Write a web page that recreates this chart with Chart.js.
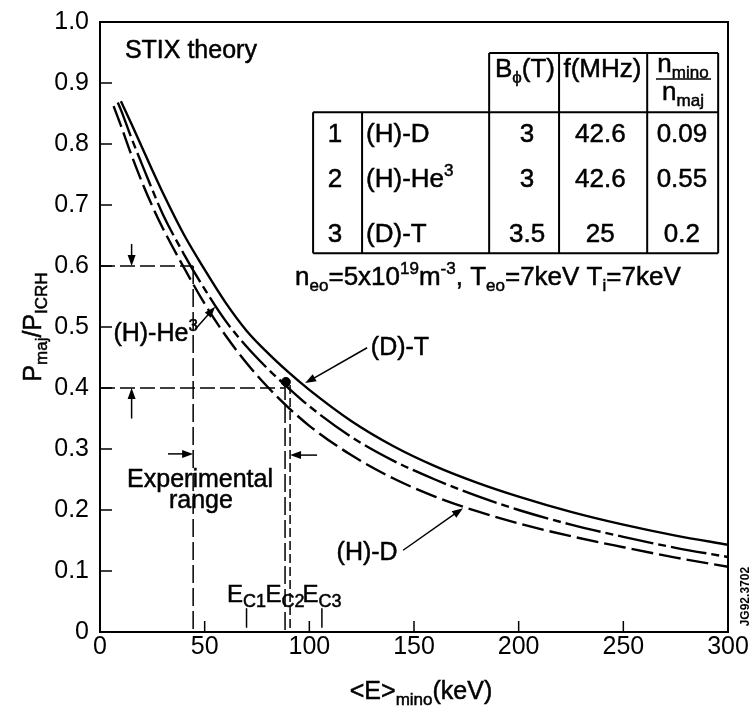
<!DOCTYPE html>
<html>
<head>
<meta charset="utf-8">
<script src="https://cdn.jsdelivr.net/npm/chart.js@4/dist/chart.umd.min.js"></script>
<style>
  html, body { margin: 0; padding: 0; background: #fff; }
</style>
</head>
<body>
<canvas id="chart" width="750" height="707"></canvas>
<script>
const FONT = '"Liberation Sans", Arial, Helvetica, sans-serif';

// curves: <E>_mino in keV, P_maj/P_ICRH
const hdEnergy = [6.5, 10, 15, 20, 25, 30, 40, 50, 60, 70, 80, 90, 100, 120, 140, 160, 180, 200, 225, 250, 275, 300];
const hdFraction = [0.862, 0.83, 0.782, 0.738, 0.698, 0.662, 0.598, 0.538, 0.486, 0.441, 0.402, 0.368, 0.338, 0.29, 0.252, 0.222, 0.198, 0.178, 0.157, 0.139, 0.122, 0.107];

const he3Energy = [8.5, 10, 15, 20, 25, 30, 40, 50, 60, 70, 80, 90, 100, 120, 140, 160, 180, 200, 225, 250, 275, 300];
const he3Fraction = [0.868, 0.856, 0.81, 0.767, 0.725, 0.685, 0.62, 0.562, 0.51, 0.468, 0.432, 0.40, 0.37, 0.32, 0.281, 0.25, 0.223, 0.2, 0.176, 0.156, 0.138, 0.123];

const dtEnergy = [10, 15, 20, 25, 30, 40, 50, 60, 70, 80, 90, 100, 120, 140, 160, 180, 200, 225, 250, 275, 300];
const dtFraction = [0.87, 0.833, 0.795, 0.757, 0.72, 0.652, 0.594, 0.54, 0.494, 0.458, 0.426, 0.397, 0.346, 0.305, 0.272, 0.245, 0.222, 0.197, 0.176, 0.158, 0.143];

// experimental range markers
const expLowEnergy = 44.5;
const expHighEnergy = [88.4, 90.8];
const expLevels = [0.6, 0.4];
const markerPoint = [88.8, 0.41];
const ecEnergy = [70, 88.4, 106];
const ecNames = ['C1', 'C2', 'C3'];

const xTicks = [0, 50, 100, 150, 200, 250, 300];
const yTicks = [0, 0.1, 0.2, 0.3, 0.4, 0.5, 0.6, 0.7, 0.8, 0.9, 1.0];

// parameter table
const tableIndex = ['1', '2', '3'];
const tableScheme = [[['(H)-D', '']], [['(H)-He', ''], ['3', 'sup']], [['(D)-T', '']]];
const tableField = ['3', '3', '3.5'];
const tableFreq = ['42.6', '42.6', '25'];
const tableRatio = ['0.09', '0.55', '0.2'];

const curve = (xs, ys) => xs.map((x, i) => ({ x, y: ys[i] }));
const seg = pts => pts.map(([x, y]) => ({ x, y }));

function drawRich(ctx, runs, x, y, size, align, small) {
  small = small || Math.round(size * 0.66);
  let w = 0;
  runs.forEach(([t, k]) => {
    ctx.font = `${k ? small : size}px ${FONT}`;
    w += ctx.measureText(t).width;
  });
  let cx = align === 'center' ? x - w / 2 : align === 'right' ? x - w : x;
  ctx.textAlign = 'left';
  ctx.textBaseline = 'alphabetic';
  ctx.lineWidth = 0.5;
  runs.forEach(([t, k]) => {
    ctx.font = `${k ? small : size}px ${FONT}`;
    const dy = k === 'sub' ? size * 0.22 : k === 'sup' ? -size * 0.42 : 0;
    ctx.fillText(t, cx, y + dy);
    ctx.strokeText(t, cx, y + dy);
    cx += ctx.measureText(t).width;
  });
}

function arrow(ctx, x1, y1, x2, y2, head) {
  head = head || 11;
  const ang = Math.atan2(y2 - y1, x2 - x1);
  ctx.lineWidth = 1.5;
  ctx.beginPath();
  ctx.moveTo(x1, y1);
  ctx.lineTo(x2 - Math.cos(ang) * head * 0.6, y2 - Math.sin(ang) * head * 0.6);
  ctx.stroke();
  ctx.beginPath();
  ctx.moveTo(x2, y2);
  ctx.lineTo(x2 - head * Math.cos(ang) + 4 * Math.sin(ang), y2 - head * Math.sin(ang) - 4 * Math.cos(ang));
  ctx.lineTo(x2 - head * Math.cos(ang) - 4 * Math.sin(ang), y2 - head * Math.sin(ang) + 4 * Math.cos(ang));
  ctx.closePath();
  ctx.fill();
}

const decorations = {
  id: 'decorations',
  afterDatasetsDraw(chart) {
    const { ctx, chartArea: a, scales: { x, y } } = chart;
    const px = v => x.getPixelForValue(v);
    const py = v => y.getPixelForValue(v);
    ctx.save();
    ctx.strokeStyle = '#000';
    ctx.fillStyle = '#000';
    ctx.setLineDash([]);

    // frame and inward ticks
    ctx.lineWidth = 2;
    ctx.strokeRect(a.left, a.top, a.right - a.left, a.bottom - a.top);
    ctx.lineWidth = 1.5;
    ctx.beginPath();
    yTicks.forEach(v => { ctx.moveTo(a.left, py(v)); ctx.lineTo(a.left + 12, py(v)); });
    xTicks.forEach(v => { ctx.moveTo(px(v), a.bottom); ctx.lineTo(px(v), a.bottom - 11); });
    ctx.stroke();

    // labels
    drawRich(ctx, [['STIX theory', '']], px(11.9), py(0.941), 25, 'left');
    drawRich(ctx, [['(H)-He', ''], ['3', 'sup']], px(6.4), py(0.477), 25, 'left', 17);
    drawRich(ctx, [['(D)-T', '']], px(143.3), py(0.454), 25, 'center');
    drawRich(ctx, [['(H)-D', '']], px(127.6), py(0.118), 25, 'center');
    drawRich(ctx, [['Experimental', '']], px(47.8), py(0.238), 25, 'center');
    drawRich(ctx, [['range', '']], px(48.2), py(0.203), 25, 'center');
    ecEnergy.forEach((e, i) => {
      drawRich(ctx, [['E', ''], [ecNames[i], 'sub']], px(e), py(0.049), 24, 'center', 18);
    });

    // pointers
    arrow(ctx, px(45.4), py(0.496), px(55), py(0.533));
    arrow(ctx, px(127.6), py(0.466), px(98), py(0.408));
    arrow(ctx, px(144.8), py(0.134), px(173.4), py(0.203));
    arrow(ctx, px(32.5), py(0.292), px(expLowEnergy), py(0.292));
    arrow(ctx, px(103.7), py(0.29), px(expHighEnergy[1]), py(0.29));
    arrow(ctx, px(15.1), py(0.636), px(15.1), py(expLevels[0]));
    arrow(ctx, px(15.1), py(0.35), px(15.1), py(expLevels[1]));

    // parameter table
    const cols = [101.8, 125.2, 185.9, 219.3, 261.4, 295.3].map(px);
    const rows = [0.949, 0.852, 0.621].map(py);
    ctx.lineWidth = 2;
    ctx.beginPath();
    ctx.moveTo(cols[2], rows[0]); ctx.lineTo(cols[5], rows[0]);
    ctx.moveTo(cols[0], rows[1]); ctx.lineTo(cols[5], rows[1]);
    ctx.moveTo(cols[0], rows[2]); ctx.lineTo(cols[5], rows[2]);
    ctx.moveTo(cols[0], rows[1]); ctx.lineTo(cols[0], rows[2]);
    ctx.moveTo(cols[1], rows[1]); ctx.lineTo(cols[1], rows[2]);
    [2, 3, 4, 5].forEach(i => { ctx.moveTo(cols[i], rows[0]); ctx.lineTo(cols[i], rows[2]); });
    ctx.stroke();

    drawRich(ctx, [['B', ''], ['\u03d5', 'sub'], ['(T)', '']], px(203), py(0.91), 26, 'center', 17);
    drawRich(ctx, [['f(MHz)', '']], px(240), py(0.91), 26, 'center');
    drawRich(ctx, [['n', ''], ['mino', 'sub']], px(278.5), py(0.918), 26, 'center', 17);
    drawRich(ctx, [['n', ''], ['maj', 'sub']], px(278.5), py(0.872), 26, 'center', 17);
    ctx.lineWidth = 1.5;
    ctx.beginPath();
    ctx.moveTo(px(265.6), py(0.9066)); ctx.lineTo(px(291.9), py(0.9066));
    ctx.stroke();

    const rowBase = [0.803, 0.730, 0.639];
    rowBase.forEach((b, i) => {
      drawRich(ctx, [[tableIndex[i], '']], px(112.3), py(b), 26, 'center');
      drawRich(ctx, tableScheme[i], px(127.1), py(b), 26, 'left', 17);
      drawRich(ctx, [[tableField[i], '']], px(204), py(b), 26, 'center');
      drawRich(ctx, [[tableFreq[i], '']], px(239), py(b), 26, 'center');
      drawRich(ctx, [[tableRatio[i], '']], px(278), py(b), 26, 'center');
    });
    drawRich(ctx, [
      ['n', ''], ['eo', 'sub'], ['=5x10', ''], ['19', 'sup'], ['m', ''], ['-3', 'sup'],
      [', T', ''], ['eo', 'sub'], ['=7keV T', ''], ['i', 'sub'], ['=7keV', '']
    ], px(93.2), py(0.569), 26, 'left', 17);

    // axis titles
    ctx.save();
    ctx.translate(a.left - 59, (a.top + a.bottom) / 2);
    ctx.rotate(-Math.PI / 2);
    drawRich(ctx, [['P', ''], ['maj', 'sub'], ['/P', ''], ['ICRH', 'sub']], 0, 0, 25, 'center', 17);
    ctx.restore();
    drawRich(ctx, [['<E>', ''], ['mino', 'sub'], ['(keV)', '']], (a.left + a.right) / 2 + 7, a.bottom + 67, 25, 'center', 17);

    // figure reference number
    ctx.save();
    ctx.translate(a.right + 18, py(0.058));
    ctx.rotate(-Math.PI / 2);
    ctx.font = `bold 12px ${FONT}`;
    ctx.textAlign = 'center';
    ctx.textBaseline = 'middle';
    ctx.fillText('JG92.3702', 0, 0);
    ctx.restore();

    ctx.restore();
  }
};

const lineStyle = { showLine: true, pointRadius: 0, borderColor: '#000', backgroundColor: '#000', fill: false };
const guide = (pts, dash) => Object.assign({}, lineStyle, { data: seg(pts), borderDash: dash, borderWidth: 1.5, tension: 0 });

new Chart(document.getElementById('chart'), {
  type: 'scatter',
  data: {
    datasets: [
      Object.assign({}, lineStyle, { label: '(H)-D', data: curve(hdEnergy, hdFraction), borderDash: [22, 6], borderWidth: 2.4, cubicInterpolationMode: 'monotone' }),
      Object.assign({}, lineStyle, { label: '(H)-He3', data: curve(he3Energy, he3Fraction), borderDash: [36, 5, 8, 5], borderWidth: 2.4, cubicInterpolationMode: 'monotone' }),
      Object.assign({}, lineStyle, { label: '(D)-T', data: curve(dtEnergy, dtFraction), borderWidth: 2.4, cubicInterpolationMode: 'monotone' }),
      guide([[0, expLevels[0]], [expLowEnergy, expLevels[0]]], [15, 5]),
      guide([[expLowEnergy, expLevels[0]], [expLowEnergy, 0]], [18, 5]),
      guide([[0, expLevels[1]], [expHighEnergy[0], expLevels[1]]], [15, 5]),
      guide([[expHighEnergy[0], markerPoint[1]], [expHighEnergy[0], 0]], [18, 5]),
      guide([[expHighEnergy[1], 0.405], [expHighEnergy[1], 0]], [9, 4]),
      guide([[ecEnergy[0], 0.007], [ecEnergy[0], 0.039]], []),
      guide([[ecEnergy[2], 0.007], [ecEnergy[2], 0.039]], []),
      { label: 'marker', data: [{ x: markerPoint[0], y: markerPoint[1] }], showLine: false, pointRadius: 4.5, pointBackgroundColor: '#000', pointBorderColor: '#000' }
    ]
  },
  options: {
    responsive: false,
    animation: false,
    events: [],
    layout: { padding: { left: 30, right: 22, top: 22, bottom: 0 } },
    plugins: { legend: { display: false }, tooltip: { enabled: false } },
    scales: {
      x: {
        type: 'linear', min: 0, max: 300,
        grid: { display: false, drawTicks: false },
        border: { display: false },
        ticks: { stepSize: 50, autoSkip: false, padding: 0, color: '#000', font: { family: FONT, size: 25 } },
        afterFit(s) { s.height = 75; s.paddingLeft = 0; s.paddingRight = 0; }
      },
      y: {
        type: 'linear', min: 0, max: 1,
        grid: { display: false, drawTicks: false },
        border: { display: false },
        ticks: {
          stepSize: 0.1, autoSkip: false, padding: 11, color: '#000', font: { family: FONT, size: 25 },
          callback: v => (v === 0 ? '0' : v.toFixed(1))
        },
        afterFit(s) { s.width = 70; s.paddingTop = 0; s.paddingBottom = 0; }
      }
    }
  },
  plugins: [decorations]
});
</script>
</body>
</html>
